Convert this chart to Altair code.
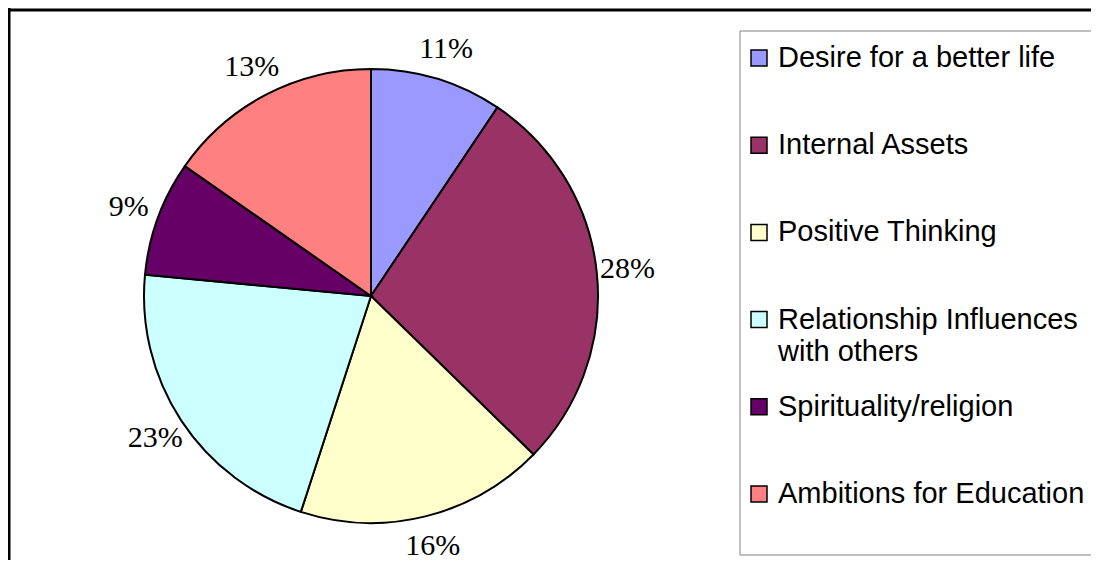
import altair as alt
import pandas as pd

# ---- data ----
categories = [
    "Desire for a better life",
    "Internal Assets",
    "Positive Thinking",
    "Relationship Influences with others",
    "Spirituality/religion",
    "Ambitions for Education",
]
# slice sizes as measured from the slice angles
slice_values = [9.4, 27.9, 17.7, 21.5, 8.2, 15.3]
# percentage labels printed on the chart
pct_labels = ["11%", "28%", "16%", "23%", "9%", "13%"]
colors = ["#9999FF", "#993366", "#FFFFCC", "#CCFFFF", "#660066", "#FF8080"]
legend_text = [
    "Desire for a better life",
    "Internal Assets",
    "Positive Thinking",
    "Relationship Influences\nwith others",
    "Spirituality/religion",
    "Ambitions for Education",
]

# ---- layout ----
W, H = 1083, 552
CX, CY = 363, 288
R = 227
LABEL_R = 258
LEG_X0, LEG_Y0, LEG_Y1 = 732, 23, 547
LEG_BASE0, LEG_STEP = 59, 87.2

pie_df = pd.DataFrame({
    "category": categories,
    "value": slice_values,
    "label": pct_labels,
    "order": list(range(len(categories))),
})

leg_df = pd.DataFrame({
    "category": categories,
    "text": legend_text,
    "ty": [LEG_BASE0 + i * LEG_STEP for i in range(len(categories))],
})
leg_df["sy"] = leg_df["ty"] - 9

color_scale = alt.Scale(domain=categories, range=colors)
one = pd.DataFrame({"a": [0]})

border_top = alt.Chart(one).mark_rule(color="black", strokeWidth=3).encode(
    x=alt.value(0), x2=alt.value(W + 20), y=alt.value(2))
border_left = alt.Chart(one).mark_rule(color="black", strokeWidth=3).encode(
    x=alt.value(1), y=alt.value(0), y2=alt.value(H + 20))

legend_box = alt.Chart(one).mark_rect(fill="white", stroke="#808080", strokeWidth=1).encode(
    x=alt.value(LEG_X0), x2=alt.value(W + 20), y=alt.value(LEG_Y0), y2=alt.value(LEG_Y1))

base = alt.Chart(pie_df).encode(
    theta=alt.Theta("value:Q", stack=True),
    order=alt.Order("order:Q"),
)
arcs = base.mark_arc(radius=R, stroke="black", strokeWidth=2).encode(
    color=alt.Color("category:N", scale=color_scale, legend=None),
    x=alt.value(CX), y=alt.value(CY),
)
labels = base.mark_text(radius=LABEL_R, font="Liberation Serif", fontSize=30,
                        align="center", baseline="middle", color="black").encode(
    text="label:N", x=alt.value(CX), y=alt.value(CY),
)

leg_sq = alt.Chart(leg_df).mark_square(size=256, stroke="black", strokeWidth=1.5, opacity=1).encode(
    x=alt.value(LEG_X0 + 19),
    y=alt.Y("sy:Q", scale=None),
    fill=alt.Color("category:N", scale=color_scale, legend=None),
)
leg_txt = alt.Chart(leg_df).mark_text(font="Liberation Sans", fontSize=29, align="left",
                                      baseline="alphabetic", lineBreak="\n",
                                      lineHeight=32, color="black").encode(
    x=alt.value(LEG_X0 + 38),
    y=alt.Y("ty:Q", scale=None),
    text="text:N",
)

chart = alt.layer(border_top, border_left, legend_box, arcs, labels, leg_sq, leg_txt).properties(
    width=W, height=H,
    autosize=alt.AutoSizeParams(type="none"),
    padding=0,
).configure_view(stroke=None)

chart.save("out.html", embed_options={"renderer": "svg", "actions": False})
